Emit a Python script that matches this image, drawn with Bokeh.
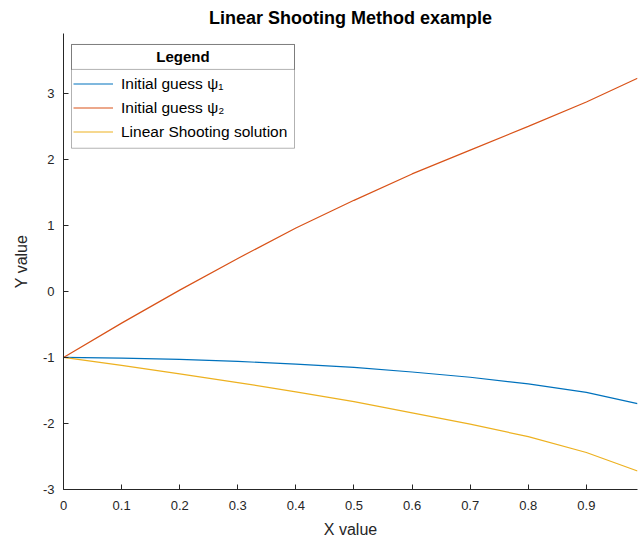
from bokeh.plotting import figure
from bokeh.models import Range1d, FixedTicker, Legend, LegendItem, BoxAnnotation, Label
from bokeh.embed import file_html
from bokeh.resources import INLINE

# ---- data ----
x = [0.0, 0.1, 0.2, 0.3, 0.4, 0.5, 0.6, 0.7, 0.8, 0.9, 0.988]
psi1 = [-1.0, -1.01, -1.03, -1.06, -1.10, -1.15, -1.22, -1.30, -1.40, -1.53, -1.70]
psi2 = [-1.0, -0.48, 0.02, 0.50, 0.96, 1.38, 1.78, 2.14, 2.50, 2.87, 3.23]
solution = [-1.0, -1.12, -1.25, -1.38, -1.52, -1.67, -1.84, -2.01, -2.20, -2.44, -2.72]

series_names = ["Initial guess \u03c8\u2081", "Initial guess \u03c8\u2082", "Linear Shooting solution"]
x_ticks = [0, 0.1, 0.2, 0.3, 0.4, 0.5, 0.6, 0.7, 0.8, 0.9]
x_tick_labels = ["0", "0.1", "0.2", "0.3", "0.4", "0.5", "0.6", "0.7", "0.8", "0.9"]
y_ticks = [-3, -2, -1, 0, 1, 2, 3]
y_tick_labels = ["-3", "-2", "-1", "0", "1", "2", "3"]

# ---- styling ----
FONT = "Liberation Sans"
AX = "#262626"
COLORS = ["#0072BD", "#D95319", "#EDB120"]

X_END = 0.988
Y_START, Y_END = -3.0, 3.907

p = figure(width=638, height=543, output_backend="svg", toolbar_location=None,
           x_range=Range1d(0, X_END), y_range=Range1d(Y_START, Y_END),
           min_border_left=63, min_border_right=1, min_border_top=32, min_border_bottom=54,
           title="Linear Shooting Method example")
p.outline_line_color = None
p.grid.visible = False
p.background_fill_color = "white"

p.title.align = "center"
p.title.text_font = FONT
p.title.text_font_size = "18px"
p.title.text_font_style = "bold"
p.title.text_color = "#000000"
p.title.standoff = 11

for ax in (p.xaxis[0], p.yaxis[0]):
    ax.axis_line_color = AX
    ax.axis_line_width = 1
    ax.major_tick_line_color = AX
    ax.major_tick_in = 5
    ax.major_tick_out = 0
    ax.minor_tick_line_color = None
    ax.major_label_text_font = FONT
    ax.major_label_text_font_size = "13px"
    ax.major_label_text_color = AX
    ax.axis_label_text_font = FONT
    ax.axis_label_text_font_size = "16px"
    ax.axis_label_text_font_style = "normal"
    ax.axis_label_text_color = AX

p.xaxis.ticker = FixedTicker(ticks=x_ticks)
p.xaxis.major_label_overrides = dict(zip(x_ticks, x_tick_labels))
p.yaxis.ticker = FixedTicker(ticks=y_ticks)
p.yaxis.major_label_overrides = dict(zip(y_ticks, y_tick_labels))
p.xaxis.axis_label = "X value"
p.yaxis.axis_label = "Y value"
p.xaxis.major_label_standoff = 11
p.xaxis.axis_label_standoff = 8
p.yaxis.major_label_standoff = 9
p.yaxis.axis_label_standoff = 10

renderers = []
for ys, c in zip([psi1, psi2, solution], COLORS):
    r = p.line(x, ys, line_color=c, line_width=1.2)
    renderers.append(r)

# ---- legend box (pixel layout converted to data space) ----
FR_L, FR_T, FR_B = 63.0, 32.0, 489.0
px_x = (X_END - 0) / (637.0 - FR_L)
px_y = (Y_END - Y_START) / (FR_B - FR_T)
def dx(px):
    return (px - FR_L) * px_x
def dy(py):
    return Y_END - (py - FR_T) * px_y

box_l, box_r, box_t, box_b, sep = 71, 294, 43, 147, 68
p.add_layout(BoxAnnotation(left=dx(box_l), right=dx(box_r), top=dy(box_t), bottom=dy(box_b),
                           fill_color="white", fill_alpha=1, line_color="#000000", line_width=1))
p.add_layout(BoxAnnotation(left=dx(box_l), right=dx(box_r), top=dy(box_t), bottom=dy(sep),
                           fill_alpha=0, line_color="#000000", line_width=1))
p.add_layout(Label(x=dx((box_l + box_r) / 2), y=dy((box_t + sep) / 2), text="Legend",
                   text_align="center", text_baseline="middle", text_font=FONT,
                   text_font_size="15px", text_font_style="bold", text_color="#000000"))

legend = Legend(items=[LegendItem(label=n, renderers=[r]) for n, r in zip(series_names, renderers)],
                location=(10, 347), orientation="vertical",
                border_line_color=None, background_fill_alpha=0,
                padding=0, margin=0, spacing=3, glyph_width=40, glyph_height=21,
                label_height=21, label_standoff=8,
                label_text_font=FONT, label_text_font_size="15.5px", label_text_color="#000000")
p.add_layout(legend, "center")

open("out.html", "w").write(file_html(p, INLINE))
